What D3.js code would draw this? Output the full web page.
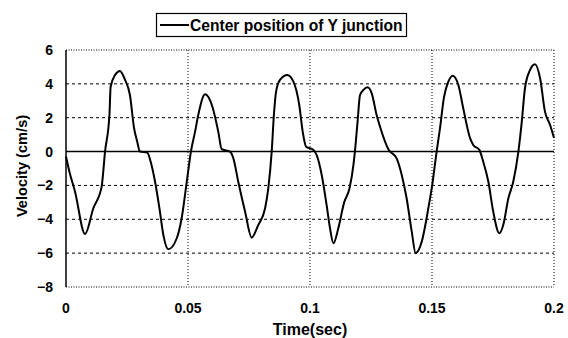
<!DOCTYPE html>
<html>
<head>
<meta charset="utf-8">
<script src="https://cdn.jsdelivr.net/npm/d3@7"></script>
<style>
  body { margin: 0; background: #fff; }
  text { font-family: "Liberation Sans", Arial, sans-serif; font-weight: bold; fill: #000; }
</style>
</head>
<body>
<div id="chart"></div>
<script>
// Velocity of the Y junction centre
const times = [0, 0.0014, 0.0037, 0.0078, 0.0112, 0.0146, 0.016, 0.0178, 0.0183, 0.0201, 0.0221, 0.0242, 0.0262, 0.0279, 0.0292, 0.0303, 0.0333, 0.0347, 0.0365, 0.0383, 0.0399, 0.0419, 0.0454, 0.0474, 0.0495, 0.0512, 0.0529, 0.0542, 0.057, 0.06, 0.0624, 0.0638, 0.0672, 0.0686, 0.0706, 0.0734, 0.0761, 0.0788, 0.0816, 0.0829, 0.0843, 0.0852, 0.0861, 0.0877, 0.0907, 0.0932, 0.0956, 0.097, 0.0984, 0.1014, 0.1027, 0.1048, 0.1068, 0.1082, 0.1096, 0.1116, 0.1140, 0.1162, 0.1178, 0.1184, 0.1195, 0.1205, 0.1219, 0.1236, 0.1253, 0.1273, 0.1287, 0.1321, 0.1355, 0.1376, 0.1396, 0.1417, 0.1433, 0.1458, 0.1485, 0.1501, 0.1519, 0.1533, 0.1549, 0.1567, 0.1585, 0.1608, 0.1628, 0.1656, 0.1669, 0.1694, 0.171, 0.1731, 0.1751, 0.1776, 0.1792, 0.1813, 0.1833, 0.1854, 0.1868, 0.1881, 0.1902, 0.1922, 0.1943, 0.1963, 0.1984, 0.2];
const velocity = [-0.3, -1.19, -2.37, -4.87, -3.35, -2.07, 0, 2.16, 3.83, 4.52, 4.76, 4.23, 3.34, 1.38, 0.58, 0, -0.06, -0.6, -1.78, -3.35, -4.93, -5.77, -5.12, -3.94, -1.78, 0, 1.18, 2.16, 3.38, 2.65, 1.18, 0.14, 0, -0.4, -1.78, -3.55, -5.08, -4.34, -3.35, -2.17, 0, 2.16, 3.54, 4.23, 4.52, 4.13, 2.75, 1.18, 0.29, 0.1, -0.2, -1.38, -3.15, -4.53, -5.42, -4.53, -3.0, -2.17, -0.79, 0, 1.77, 3.34, 3.64, 3.8, 3.44, 2.16, 1.47, 0.14, -0.4, -1.38, -2.76, -4.73, -6.0, -5.32, -3.35, -1.97, 0, 1.4, 3.2, 4.13, 4.48, 3.93, 2.56, 0.79, 0.39, 0.1, -0.6, -1.78, -3.55, -4.83, -4.34, -2.76, -1.78, 0, 1.77, 3.74, 4.82, 5.16, 4.33, 2.36, 1.57, 0.8];
const xTicks = [0, 0.05, 0.1, 0.15, 0.2];
const yTicks = [-8, -6, -4, -2, 0, 2, 4, 6];
const seriesName = "Center position of Y junction";

const width = 568, height = 338;
const margin = {top: 50, right: 14, bottom: 51, left: 66};

const svg = d3.select("#chart").append("svg")
    .attr("width", width)
    .attr("height", height);

const x = d3.scaleLinear().domain([0, 0.2]).range([margin.left, width - margin.right]);
const y = d3.scaleLinear().domain([-8, 6]).range([height - margin.bottom, margin.top]);

// horizontal grid (dashed), zero line drawn solid later
svg.selectAll(".hgrid")
    .data(yTicks.filter(d => d !== 0 && d !== 6 && d !== -8))
    .join("line")
    .attr("x1", x(0)).attr("x2", x(0.2))
    .attr("y1", d => y(d)).attr("y2", d => y(d))
    .attr("stroke", "#000").attr("stroke-width", 1)
    .attr("stroke-dasharray", "3,3");

// vertical grid (dotted)
svg.selectAll(".vgrid")
    .data(xTicks.filter(d => d !== 0))
    .join("line")
    .attr("x1", d => x(d)).attr("x2", d => x(d))
    .attr("y1", y(6)).attr("y2", y(-8))
    .attr("stroke", "#000").attr("stroke-width", 1)
    .attr("stroke-dasharray", "1,2");

// top and bottom border dotted
[6, -8].forEach(v => {
  svg.append("line")
      .attr("x1", x(0)).attr("x2", x(0.2))
      .attr("y1", y(v)).attr("y2", y(v))
      .attr("stroke", "#000").attr("stroke-dasharray", "1,1.5");
});

// left axis line
svg.append("line")
    .attr("x1", x(0)).attr("x2", x(0))
    .attr("y1", y(6)).attr("y2", y(-8))
    .attr("stroke", "#000").attr("stroke-width", 1.5);

// zero line
svg.append("line")
    .attr("x1", x(0)).attr("x2", x(0.2))
    .attr("y1", y(0)).attr("y2", y(0))
    .attr("stroke", "#000").attr("stroke-width", 1.5);

// tick labels
svg.selectAll(".ylab")
    .data(yTicks)
    .join("text")
    .attr("x", x(0) - 13)
    .attr("y", d => y(d) + 5)
    .attr("text-anchor", "end")
    .attr("font-size", 14)
    .text(d => d < 0 ? "\u2212" + Math.abs(d) : d);

svg.selectAll(".xlab")
    .data(xTicks)
    .join("text")
    .attr("x", d => x(d))
    .attr("y", 313)
    .attr("text-anchor", "middle")
    .attr("font-size", 14)
    .text(d => d);

svg.append("text")
    .attr("x", 310).attr("y", 335)
    .attr("text-anchor", "middle")
    .attr("font-size", 16)
    .text("Time(sec)");

svg.append("text")
    .attr("transform", "translate(27,166) rotate(-90)")
    .attr("text-anchor", "middle")
    .attr("font-size", 14.6)
    .text("Velocity (cm/s)");

// the curve
const pts = times.map((t, i) => [t, velocity[i]]);
const line = d3.line()
    .x(d => x(d[0]))
    .y(d => y(d[1]))
    .curve(d3.curveMonotoneX);

svg.append("path")
    .datum(pts)
    .attr("d", line)
    .attr("fill", "none")
    .attr("stroke", "#000")
    .attr("stroke-width", 2);

// legend
const lg = svg.append("g");
lg.append("rect")
    .attr("x", 156.5).attr("y", 13.5)
    .attr("width", 250).attr("height", 23)
    .attr("fill", "#fff").attr("stroke", "#000").attr("stroke-width", 1.2);
lg.append("line")
    .attr("x1", 160).attr("x2", 189)
    .attr("y1", 25).attr("y2", 25)
    .attr("stroke", "#000").attr("stroke-width", 2);
lg.append("text")
    .attr("x", 190).attr("y", 30.5)
    .attr("font-size", 15.6)
    .text(seriesName);
</script>
</body>
</html>
